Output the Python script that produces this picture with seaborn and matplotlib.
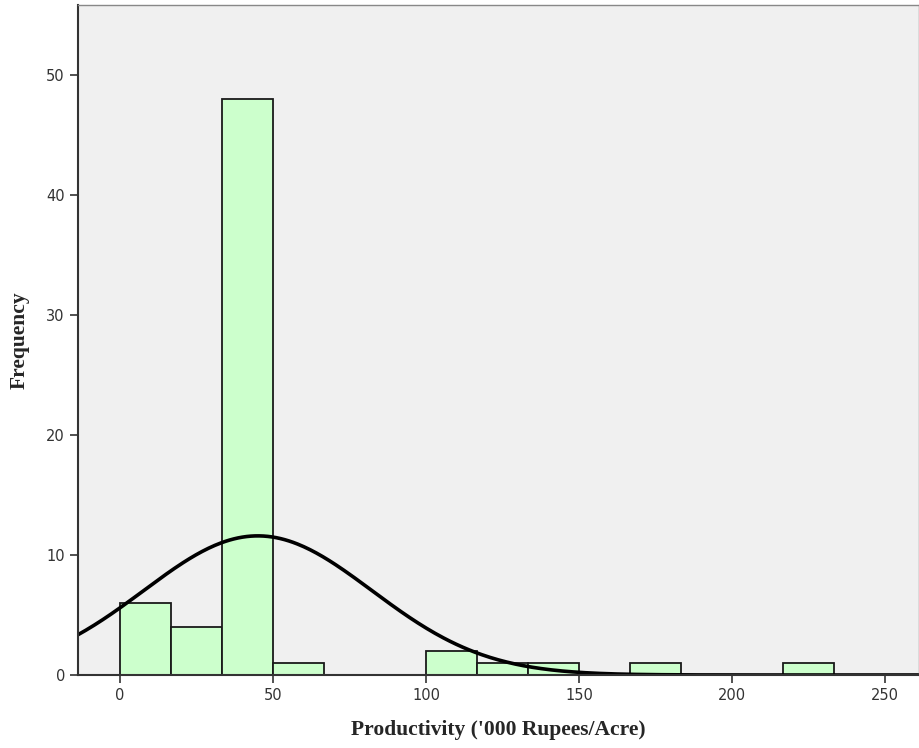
import numpy as np
import pandas as pd
import matplotlib
matplotlib.use('Agg')
import matplotlib.pyplot as plt
import seaborn as sns

# histogram bins ('000 Rupees/Acre), width 50/3
bin_edges = [0, 50/3, 100/3, 50, 200/3, 250/3, 100, 350/3, 400/3, 150,
             500/3, 550/3, 200, 650/3, 700/3]
counts = [6, 4, 48, 1, 0, 0, 2, 1, 1, 0, 1, 0, 0, 1]

# normal curve parameters
fit_mean = 45.0
fit_std = 37.3
n_total = sum(counts)

x_ticks = [0, 50, 100, 150, 200, 250]
y_ticks = [0, 10, 20, 30, 40, 50]

centers = [(bin_edges[i] + bin_edges[i + 1]) / 2 for i in range(len(counts))]
df = pd.DataFrame({'mid': centers, 'count': counts})

sns.set_style('white')
fig = plt.figure(figsize=(9.19, 7.48), dpi=100)
ax = fig.add_axes([0.085, 0.0976, 0.915, 0.8957])
ax.set_facecolor('#f0f0f0')

sns.histplot(data=df, x='mid', weights='count', bins=bin_edges, ax=ax,
             color='#ccffcc', alpha=1, edgecolor='#1a1a1a', linewidth=1.3)

# fitted normal curve
bw = bin_edges[1] - bin_edges[0]
xs = np.linspace(-14, 262, 400)
ys = n_total * bw / (fit_std * np.sqrt(2 * np.pi)) * np.exp(-0.5 * ((xs - fit_mean) / fit_std) ** 2)
sns.lineplot(x=xs, y=ys, ax=ax, color='black', linewidth=2.6)

ax.set_xlim(-13.7, 261)
ax.set_ylim(0, 55.8)
ax.set_xticks(x_ticks)
ax.set_yticks(y_ticks)
ax.tick_params(direction='out', length=6, width=1.2, color='#333333',
               labelsize=10.5, labelcolor='#333333', bottom=True, left=True)
for lbl in ax.get_xticklabels() + ax.get_yticklabels():
    lbl.set_family('DejaVu Sans')

for side in ['left', 'bottom']:
    ax.spines[side].set_color('#333333')
    ax.spines[side].set_linewidth(1.5)
for side in ['top', 'right']:
    ax.spines[side].set_color('#888888')
    ax.spines[side].set_linewidth(1.0)

ax.set_xlabel("Productivity ('000 Rupees/Acre)", family='Liberation Serif',
              fontweight='bold', fontsize=15.5, labelpad=12)
ax.set_ylabel('Frequency', family='Liberation Serif', fontweight='bold',
              fontsize=15.5, labelpad=12)

fig.savefig('out.png', dpi=100)
